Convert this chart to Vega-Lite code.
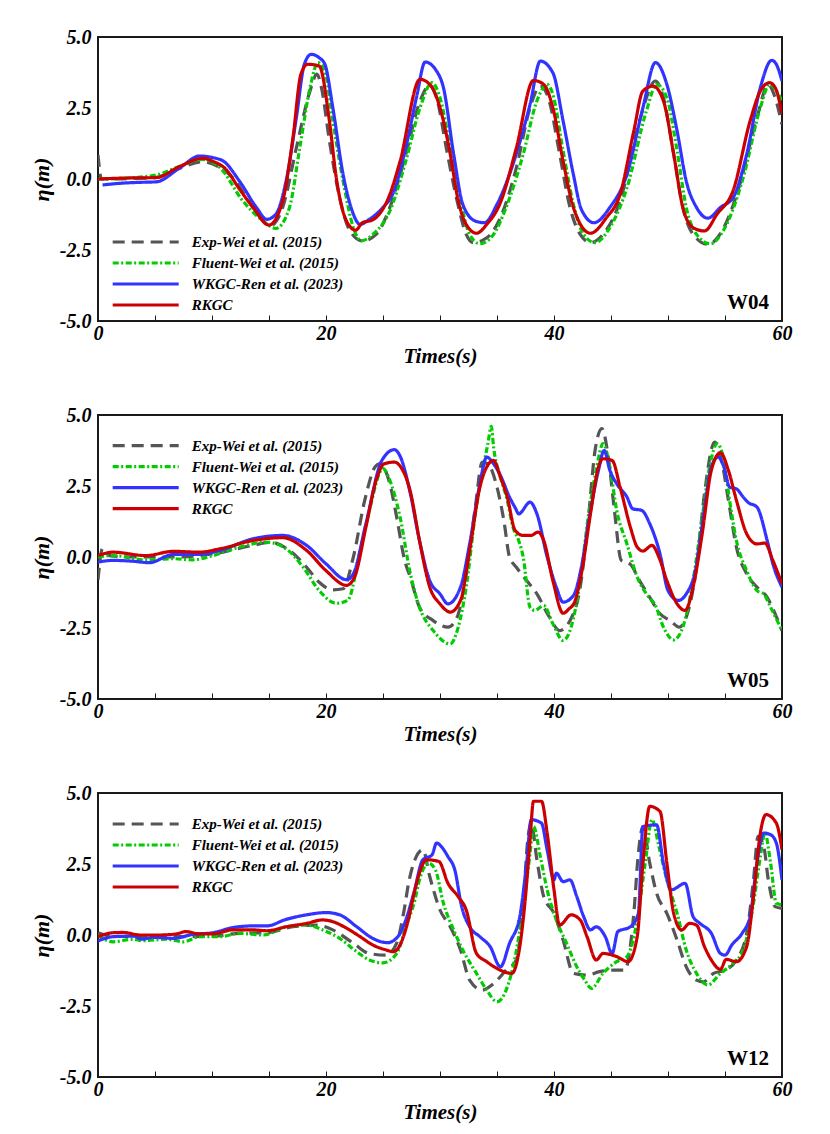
{
  "$schema": "https://vega.github.io/schema/vega-lite/v6.json",
  "background": "white",
  "padding": {"left": 29, "top": 26, "right": 10, "bottom": 10},
  "spacing": 37,
  "config": {
    "font": "Liberation Serif",
    "view": {"stroke": "#1a1a1a", "strokeWidth": 2},
    "axis": {
      "grid": false,
      "domain": false,
      "labelFont": "Liberation Serif",
      "labelFontWeight": "bold",
      "labelFontStyle": "italic",
      "labelFontSize": 20,
      "labelColor": "black",
      "titleFont": "Liberation Serif",
      "titleFontWeight": "bold",
      "titleFontStyle": "italic",
      "titleColor": "black"
    },
    "axisX": {
      "tickSize": -6,
      "tickColor": "#1a1a1a",
      "tickWidth": 1,
      "labelPadding": 8,
      "labelFlush": false,
      "labelOverlap": false,
      "titleFontSize": 21,
      "titlePadding": 2
    },
    "axisY": {
      "ticks": false,
      "labelPadding": 7,
      "titleFontSize": 22,
      "titlePadding": 6
    },
    "legend": {
      "orient": "none",
      "symbolType": "M-1,0H5",
      "symbolSize": 484,
      "symbolStrokeWidth": 3.2,
      "labelOffset": 55,
      "labelFont": "Liberation Serif",
      "labelFontSize": 15,
      "labelFontWeight": "bold",
      "labelFontStyle": "italic",
      "labelColor": "black",
      "labelLimit": 300,
      "rowPadding": 0,
      "padding": 0
    }
  },
  "resolve": {"scale": {"color": "independent", "strokeDash": "independent"}},
  "datasets": {
    "w04": [
      {"s":"exp","t":0,"y":0.85},{"s":"exp","t":0.3,"y":0},{"s":"exp","t":1.5,"y":0},{"s":"exp","t":3,"y":0.02},{"s":"exp","t":5,"y":0.05},{"s":"exp","t":7,"y":0.35},{"s":"exp","t":9.2,"y":0.61},{"s":"exp","t":10.5,"y":0.45},{"s":"exp","t":11.8,"y":0.05},{"s":"exp","t":13.6,"y":-1.0},{"s":"exp","t":15.1,"y":-1.65},{"s":"exp","t":16.2,"y":-1.0},{"s":"exp","t":17.4,"y":1.1},{"s":"exp","t":18.6,"y":3.1},{"s":"exp","t":19.2,"y":3.69},{"s":"exp","t":19.6,"y":3.22},{"s":"exp","t":20.3,"y":1.34},{"s":"exp","t":21.2,"y":-0.66},{"s":"exp","t":22.1,"y":-1.83},{"s":"exp","t":23.2,"y":-2.18},{"s":"exp","t":24.4,"y":-1.95},{"s":"exp","t":25.6,"y":-1.0},{"s":"exp","t":27,"y":0.87},{"s":"exp","t":28.25,"y":2.75},{"s":"exp","t":29.1,"y":3.3},{"s":"exp","t":29.7,"y":2.86},{"s":"exp","t":30.6,"y":0.99},{"s":"exp","t":31.5,"y":-0.77},{"s":"exp","t":32.3,"y":-1.95},{"s":"exp","t":32.9,"y":-2.24},{"s":"exp","t":34.1,"y":-2.07},{"s":"exp","t":35.3,"y":-1.36},{"s":"exp","t":36.7,"y":0.4},{"s":"exp","t":37.9,"y":2.51},{"s":"exp","t":38.8,"y":3.27},{"s":"exp","t":39.5,"y":2.86},{"s":"exp","t":40.5,"y":0.87},{"s":"exp","t":41.4,"y":-1.0},{"s":"exp","t":42.3,"y":-1.95},{"s":"exp","t":43.2,"y":-2.24},{"s":"exp","t":44.3,"y":-1.95},{"s":"exp","t":45.8,"y":-0.77},{"s":"exp","t":47.5,"y":2.04},{"s":"exp","t":48.9,"y":3.45},{"s":"exp","t":49.6,"y":2.86},{"s":"exp","t":50.5,"y":0.87},{"s":"exp","t":51.3,"y":-1.0},{"s":"exp","t":52.2,"y":-1.95},{"s":"exp","t":53.5,"y":-2.3},{"s":"exp","t":54.9,"y":-1.71},{"s":"exp","t":56.3,"y":-0.19},{"s":"exp","t":57.8,"y":2.16},{"s":"exp","t":58.8,"y":3.33},{"s":"exp","t":59.4,"y":2.86},{"s":"exp","t":60,"y":1.92},
      {"s":"flu","t":0,"y":0},{"s":"flu","t":2,"y":0.02},{"s":"flu","t":5.1,"y":0.14},{"s":"flu","t":7.2,"y":0.45},{"s":"flu","t":9.2,"y":0.69},{"s":"flu","t":10.7,"y":0.4},{"s":"flu","t":12.7,"y":-0.77},{"s":"flu","t":14.5,"y":-1.48},{"s":"flu","t":15.6,"y":-1.74},{"s":"flu","t":16.8,"y":-1.0},{"s":"flu","t":17.7,"y":1.1},{"s":"flu","t":18.6,"y":3.22},{"s":"flu","t":19.3,"y":4.1},{"s":"flu","t":19.9,"y":3.8},{"s":"flu","t":20.6,"y":2.04},{"s":"flu","t":21.5,"y":-0.07},{"s":"flu","t":22.4,"y":-1.71},{"s":"flu","t":23.1,"y":-2.18},{"s":"flu","t":24.1,"y":-1.95},{"s":"flu","t":25.6,"y":-1.13},{"s":"flu","t":27,"y":0.63},{"s":"flu","t":28.25,"y":2.51},{"s":"flu","t":29.3,"y":3.39},{"s":"flu","t":30.0,"y":2.86},{"s":"flu","t":30.9,"y":1.1},{"s":"flu","t":31.8,"y":-0.77},{"s":"flu","t":32.6,"y":-1.95},{"s":"flu","t":33.5,"y":-2.28},{"s":"flu","t":34.7,"y":-1.95},{"s":"flu","t":35.8,"y":-1.0},{"s":"flu","t":37.3,"y":0.87},{"s":"flu","t":38.5,"y":2.75},{"s":"flu","t":39.4,"y":3.33},{"s":"flu","t":39.9,"y":2.98},{"s":"flu","t":40.8,"y":0.99},{"s":"flu","t":41.7,"y":-0.89},{"s":"flu","t":42.6,"y":-1.95},{"s":"flu","t":43.6,"y":-2.24},{"s":"flu","t":44.9,"y":-1.71},{"s":"flu","t":46.4,"y":-0.31},{"s":"flu","t":48.1,"y":2.39},{"s":"flu","t":49.0,"y":3.33},{"s":"flu","t":49.9,"y":2.86},{"s":"flu","t":50.8,"y":0.99},{"s":"flu","t":51.6,"y":-1.0},{"s":"flu","t":52.5,"y":-1.95},{"s":"flu","t":53.7,"y":-2.28},{"s":"flu","t":55,"y":-1.71},{"s":"flu","t":56.6,"y":0.05},{"s":"flu","t":58.1,"y":2.51},{"s":"flu","t":58.9,"y":3.33},{"s":"flu","t":59.5,"y":3.1},{"s":"flu","t":60,"y":2.75},
      {"s":"ren","t":0.4,"y":-0.21},{"s":"ren","t":2,"y":-0.15},{"s":"ren","t":3.5,"y":-0.12},{"s":"ren","t":5.1,"y":-0.1},{"s":"ren","t":7.2,"y":0.4},{"s":"ren","t":8.9,"y":0.81},{"s":"ren","t":10.1,"y":0.75},{"s":"ren","t":11,"y":0.63},{"s":"ren","t":12.4,"y":-0.07},{"s":"ren","t":13.9,"y":-1.0},{"s":"ren","t":14.8,"y":-1.42},{"s":"ren","t":15.6,"y":-1.24},{"s":"ren","t":16.5,"y":-0.07},{"s":"ren","t":17.4,"y":2.16},{"s":"ren","t":18.1,"y":4.04},{"s":"ren","t":18.7,"y":4.39},{"s":"ren","t":19.4,"y":4.27},{"s":"ren","t":19.9,"y":4.04},{"s":"ren","t":20.6,"y":2.51},{"s":"ren","t":21.5,"y":0.16},{"s":"ren","t":22.2,"y":-1.0},{"s":"ren","t":23,"y":-1.6},{"s":"ren","t":23.8,"y":-1.42},{"s":"ren","t":25,"y":-1.0},{"s":"ren","t":25.9,"y":-0.48},{"s":"ren","t":27,"y":1.1},{"s":"ren","t":27.95,"y":2.9},{"s":"ren","t":28.7,"y":4.12},{"s":"ren","t":29.7,"y":3.8},{"s":"ren","t":30.3,"y":3.22},{"s":"ren","t":31.2,"y":0.87},{"s":"ren","t":32.0,"y":-0.89},{"s":"ren","t":33.1,"y":-1.48},{"s":"ren","t":33.9,"y":-1.54},{"s":"ren","t":35.0,"y":-0.89},{"s":"ren","t":36.4,"y":0.52},{"s":"ren","t":37.9,"y":2.63},{"s":"ren","t":38.8,"y":4.15},{"s":"ren","t":39.9,"y":3.74},{"s":"ren","t":40.8,"y":2.04},{"s":"ren","t":41.7,"y":0.16},{"s":"ren","t":42.4,"y":-1.07},{"s":"ren","t":43.5,"y":-1.54},{"s":"ren","t":44.9,"y":-1.0},{"s":"ren","t":46.4,"y":0.16},{"s":"ren","t":47.8,"y":2.51},{"s":"ren","t":48.9,"y":4.1},{"s":"ren","t":49.9,"y":3.33},{"s":"ren","t":50.8,"y":1.69},{"s":"ren","t":51.6,"y":-0.07},{"s":"ren","t":52.5,"y":-1.0},{"s":"ren","t":53.5,"y":-1.38},{"s":"ren","t":54.6,"y":-1.0},{"s":"ren","t":55.7,"y":-0.66},{"s":"ren","t":56.9,"y":0.87},{"s":"ren","t":58.1,"y":3.22},{"s":"ren","t":59.1,"y":4.18},{"s":"ren","t":59.5,"y":4.04},{"s":"ren","t":60,"y":3.45},
      {"s":"rkgc","t":0,"y":0},{"s":"rkgc","t":2,"y":0.03},{"s":"rkgc","t":5.1,"y":0.05},{"s":"rkgc","t":7.2,"y":0.45},{"s":"rkgc","t":9.2,"y":0.73},{"s":"rkgc","t":10.1,"y":0.62},{"s":"rkgc","t":11.2,"y":0.35},{"s":"rkgc","t":12.4,"y":-0.35},{"s":"rkgc","t":13.6,"y":-1.0},{"s":"rkgc","t":15,"y":-1.62},{"s":"rkgc","t":16.2,"y":-0.77},{"s":"rkgc","t":17.1,"y":1.45},{"s":"rkgc","t":17.8,"y":3.69},{"s":"rkgc","t":18.4,"y":4.04},{"s":"rkgc","t":19.4,"y":3.98},{"s":"rkgc","t":20.3,"y":2.04},{"s":"rkgc","t":20.9,"y":0.05},{"s":"rkgc","t":21.8,"y":-1.48},{"s":"rkgc","t":22.6,"y":-1.8},{"s":"rkgc","t":23.2,"y":-1.54},{"s":"rkgc","t":24.1,"y":-1.44},{"s":"rkgc","t":25.6,"y":-0.54},{"s":"rkgc","t":26.5,"y":0.63},{"s":"rkgc","t":28.25,"y":3.51},{"s":"rkgc","t":29.1,"y":3.33},{"s":"rkgc","t":30.0,"y":2.51},{"s":"rkgc","t":30.9,"y":0.87},{"s":"rkgc","t":31.6,"y":-0.77},{"s":"rkgc","t":32.3,"y":-1.6},{"s":"rkgc","t":33.2,"y":-1.91},{"s":"rkgc","t":34.1,"y":-1.6},{"s":"rkgc","t":35.3,"y":-0.83},{"s":"rkgc","t":36.7,"y":1.1},{"s":"rkgc","t":38.2,"y":3.47},{"s":"rkgc","t":39.1,"y":3.33},{"s":"rkgc","t":39.9,"y":2.51},{"s":"rkgc","t":40.8,"y":0.63},{"s":"rkgc","t":41.7,"y":-1.0},{"s":"rkgc","t":43.2,"y":-1.91},{"s":"rkgc","t":44.6,"y":-1.36},{"s":"rkgc","t":45.8,"y":-0.54},{"s":"rkgc","t":47.0,"y":1.69},{"s":"rkgc","t":47.8,"y":3.1},{"s":"rkgc","t":48.7,"y":3.27},{"s":"rkgc","t":49.6,"y":2.75},{"s":"rkgc","t":50.5,"y":0.87},{"s":"rkgc","t":51.3,"y":-1.0},{"s":"rkgc","t":52.2,"y":-1.71},{"s":"rkgc","t":53.2,"y":-1.83},{"s":"rkgc","t":54.3,"y":-1.24},{"s":"rkgc","t":55.7,"y":-0.42},{"s":"rkgc","t":57.2,"y":2.04},{"s":"rkgc","t":58.1,"y":3.1},{"s":"rkgc","t":58.9,"y":3.39},{"s":"rkgc","t":59.4,"y":3.22},{"s":"rkgc","t":60,"y":2.3}
    ],
    "w05": [
      {"s":"exp","t":0,"y":-0.8},{"s":"exp","t":0.4,"y":0.3},{"s":"exp","t":1,"y":0.05},{"s":"exp","t":3,"y":0},{"s":"exp","t":6.6,"y":0},{"s":"exp","t":10.1,"y":0.11},{"s":"exp","t":13.6,"y":0.41},{"s":"exp","t":15.1,"y":0.52},{"s":"exp","t":16.8,"y":0.23},{"s":"exp","t":18.3,"y":-0.36},{"s":"exp","t":19.4,"y":-0.89},{"s":"exp","t":20.6,"y":-1.16},{"s":"exp","t":21.5,"y":-1.12},{"s":"exp","t":22.4,"y":0},{"s":"exp","t":23.4,"y":2.0},{"s":"exp","t":24.3,"y":3.17},{"s":"exp","t":24.7,"y":3.28},{"s":"exp","t":25.6,"y":2.58},{"s":"exp","t":26.2,"y":1.4},{"s":"exp","t":26.9,"y":-0.12},{"s":"exp","t":27.4,"y":-0.71},{"s":"exp","t":28.2,"y":-1.77},{"s":"exp","t":29.4,"y":-2.24},{"s":"exp","t":30.7,"y":-2.47},{"s":"exp","t":31.5,"y":-2.12},{"s":"exp","t":32.3,"y":-0.59},{"s":"exp","t":33.1,"y":1.76},{"s":"exp","t":33.7,"y":3.34},{"s":"exp","t":34.2,"y":3.28},{"s":"exp","t":35,"y":2.46},{"s":"exp","t":35.6,"y":1.29},{"s":"exp","t":36.1,"y":0},{"s":"exp","t":36.7,"y":-0.36},{"s":"exp","t":37.6,"y":-0.83},{"s":"exp","t":38.5,"y":-1.3},{"s":"exp","t":39.6,"y":-2.12},{"s":"exp","t":40.5,"y":-2.59},{"s":"exp","t":41.4,"y":-2.24},{"s":"exp","t":42.3,"y":-1.06},{"s":"exp","t":43,"y":1.29},{"s":"exp","t":43.6,"y":3.75},{"s":"exp","t":44.2,"y":4.52},{"s":"exp","t":44.8,"y":3.4},{"s":"exp","t":45.3,"y":1.64},{"s":"exp","t":45.9,"y":-0.12},{"s":"exp","t":46.7,"y":-0.26},{"s":"exp","t":47.5,"y":-0.83},{"s":"exp","t":48.4,"y":-1.42},{"s":"exp","t":49.3,"y":-2.0},{"s":"exp","t":50.2,"y":-2.24},{"s":"exp","t":51.0,"y":-2.47},{"s":"exp","t":51.6,"y":-2.12},{"s":"exp","t":52.5,"y":-0.36},{"s":"exp","t":53.2,"y":2.23},{"s":"exp","t":54.1,"y":4.05},{"s":"exp","t":54.7,"y":3.4},{"s":"exp","t":55.3,"y":2.0},{"s":"exp","t":56,"y":0.35},{"s":"exp","t":56.9,"y":-0.59},{"s":"exp","t":57.8,"y":-1.06},{"s":"exp","t":58.7,"y":-1.42},{"s":"exp","t":59.4,"y":-2.0},{"s":"exp","t":60,"y":-2.59},
      {"s":"flu","t":0,"y":0},{"s":"flu","t":1.3,"y":0.05},{"s":"flu","t":4.2,"y":-0.1},{"s":"flu","t":6.6,"y":-0.06},{"s":"flu","t":8.3,"y":-0.1},{"s":"flu","t":10.1,"y":0.05},{"s":"flu","t":12.4,"y":0.35},{"s":"flu","t":14.8,"y":0.52},{"s":"flu","t":16.5,"y":0.29},{"s":"flu","t":18,"y":-0.36},{"s":"flu","t":19.4,"y":-1.18},{"s":"flu","t":20.9,"y":-1.63},{"s":"flu","t":21.9,"y":-1.53},{"s":"flu","t":23.0,"y":0.23},{"s":"flu","t":23.8,"y":1.64},{"s":"flu","t":25,"y":3.11},{"s":"flu","t":25.6,"y":2.7},{"s":"flu","t":26.5,"y":1.4},{"s":"flu","t":27.4,"y":-0.59},{"s":"flu","t":28.2,"y":-1.77},{"s":"flu","t":29.4,"y":-2.59},{"s":"flu","t":30.9,"y":-3.06},{"s":"flu","t":31.6,"y":-2.47},{"s":"flu","t":32.3,"y":-1.06},{"s":"flu","t":33.1,"y":1.52},{"s":"flu","t":33.8,"y":3.17},{"s":"flu","t":34.2,"y":3.99},{"s":"flu","t":34.5,"y":4.6},{"s":"flu","t":34.7,"y":3.87},{"s":"flu","t":35.3,"y":2.81},{"s":"flu","t":35.9,"y":2.0},{"s":"flu","t":36.4,"y":1.05},{"s":"flu","t":36.9,"y":0.58},{"s":"flu","t":37.3,"y":0},{"s":"flu","t":37.9,"y":-1.77},{"s":"flu","t":38.3,"y":-1.88},{"s":"flu","t":39.1,"y":-1.71},{"s":"flu","t":39.9,"y":-2.35},{"s":"flu","t":40.8,"y":-2.94},{"s":"flu","t":41.5,"y":-2.47},{"s":"flu","t":42.3,"y":-0.83},{"s":"flu","t":43,"y":1.4},{"s":"flu","t":43.7,"y":3.05},{"s":"flu","t":44.3,"y":3.99},{"s":"flu","t":44.9,"y":3.17},{"s":"flu","t":45.5,"y":1.64},{"s":"flu","t":46.4,"y":0.46},{"s":"flu","t":47.3,"y":-0.71},{"s":"flu","t":48.1,"y":-1.3},{"s":"flu","t":48.9,"y":-1.71},{"s":"flu","t":49.6,"y":-2.47},{"s":"flu","t":50.5,"y":-2.92},{"s":"flu","t":51.3,"y":-2.47},{"s":"flu","t":52.2,"y":-0.83},{"s":"flu","t":53,"y":1.4},{"s":"flu","t":53.7,"y":3.28},{"s":"flu","t":54.3,"y":3.99},{"s":"flu","t":54.9,"y":3.4},{"s":"flu","t":55.4,"y":2.0},{"s":"flu","t":56,"y":0.58},{"s":"flu","t":56.9,"y":-0.48},{"s":"flu","t":57.8,"y":-1.18},{"s":"flu","t":58.4,"y":-1.3},{"s":"flu","t":59,"y":-1.77},{"s":"flu","t":60,"y":-2.59},
      {"s":"ren","t":0,"y":-0.18},{"s":"ren","t":1.3,"y":-0.12},{"s":"ren","t":3.1,"y":-0.15},{"s":"ren","t":4.5,"y":-0.2},{"s":"ren","t":6.6,"y":0.09},{"s":"ren","t":8.9,"y":0.09},{"s":"ren","t":10.7,"y":0.23},{"s":"ren","t":13.6,"y":0.64},{"s":"ren","t":16.2,"y":0.76},{"s":"ren","t":18.3,"y":0.41},{"s":"ren","t":20.0,"y":-0.24},{"s":"ren","t":21.8,"y":-0.8},{"s":"ren","t":22.4,"y":-0.59},{"s":"ren","t":23.5,"y":1.17},{"s":"ren","t":24.9,"y":3.4},{"s":"ren","t":26,"y":3.78},{"s":"ren","t":26.5,"y":3.55},{"s":"ren","t":27.4,"y":2.23},{"s":"ren","t":28.2,"y":0.58},{"s":"ren","t":29.1,"y":-0.83},{"s":"ren","t":30,"y":-1.3},{"s":"ren","t":30.7,"y":-1.65},{"s":"ren","t":31.8,"y":-1.06},{"s":"ren","t":32.6,"y":0.46},{"s":"ren","t":33.5,"y":2.58},{"s":"ren","t":34.1,"y":3.52},{"s":"ren","t":34.7,"y":3.28},{"s":"ren","t":35.3,"y":2.87},{"s":"ren","t":36.1,"y":2.11},{"s":"ren","t":36.6,"y":1.73},{"s":"ren","t":36.9,"y":1.52},{"s":"ren","t":37.9,"y":1.93},{"s":"ren","t":38.5,"y":1.52},{"s":"ren","t":39.4,"y":0},{"s":"ren","t":40.2,"y":-1.06},{"s":"ren","t":40.8,"y":-1.59},{"s":"ren","t":41.7,"y":-1.36},{"s":"ren","t":42.4,"y":-0.36},{"s":"ren","t":43.2,"y":1.64},{"s":"ren","t":43.9,"y":3.05},{"s":"ren","t":44.4,"y":3.75},{"s":"ren","t":44.9,"y":3.05},{"s":"ren","t":45.5,"y":2.58},{"s":"ren","t":46.4,"y":2.11},{"s":"ren","t":46.9,"y":1.7},{"s":"ren","t":47.7,"y":1.64},{"s":"ren","t":48.4,"y":1.17},{"s":"ren","t":49.3,"y":0.11},{"s":"ren","t":50,"y":-1.18},{"s":"ren","t":50.9,"y":-1.53},{"s":"ren","t":51.6,"y":-1.3},{"s":"ren","t":52.4,"y":-0.48},{"s":"ren","t":53.1,"y":1.4},{"s":"ren","t":53.8,"y":3.17},{"s":"ren","t":54.4,"y":3.52},{"s":"ren","t":54.9,"y":3.17},{"s":"ren","t":55.4,"y":2.46},{"s":"ren","t":56,"y":2.4},{"s":"ren","t":56.6,"y":2.11},{"s":"ren","t":57.0,"y":1.93},{"s":"ren","t":57.8,"y":1.76},{"s":"ren","t":58.7,"y":0.58},{"s":"ren","t":59.2,"y":-0.24},{"s":"ren","t":60,"y":-1.06},
      {"s":"rkgc","t":0,"y":0.05},{"s":"rkgc","t":1.3,"y":0.17},{"s":"rkgc","t":4.2,"y":0.05},{"s":"rkgc","t":6.6,"y":0.2},{"s":"rkgc","t":8.9,"y":0.17},{"s":"rkgc","t":10.7,"y":0.29},{"s":"rkgc","t":13.6,"y":0.58},{"s":"rkgc","t":16.2,"y":0.68},{"s":"rkgc","t":18.3,"y":0.23},{"s":"rkgc","t":20.0,"y":-0.48},{"s":"rkgc","t":21.8,"y":-1.0},{"s":"rkgc","t":22.5,"y":-0.71},{"s":"rkgc","t":23.5,"y":1.05},{"s":"rkgc","t":24.4,"y":2.7},{"s":"rkgc","t":25.1,"y":3.28},{"s":"rkgc","t":26,"y":3.34},{"s":"rkgc","t":26.5,"y":3.2},{"s":"rkgc","t":27.4,"y":2.3},{"s":"rkgc","t":28.2,"y":0.58},{"s":"rkgc","t":29.1,"y":-1.06},{"s":"rkgc","t":30,"y":-1.65},{"s":"rkgc","t":30.9,"y":-1.94},{"s":"rkgc","t":31.8,"y":-1.53},{"s":"rkgc","t":32.6,"y":0.23},{"s":"rkgc","t":33.5,"y":2.46},{"s":"rkgc","t":34.1,"y":3.17},{"s":"rkgc","t":34.7,"y":3.4},{"s":"rkgc","t":35.3,"y":2.81},{"s":"rkgc","t":35.9,"y":2.11},{"s":"rkgc","t":36.6,"y":0.93},{"s":"rkgc","t":37.3,"y":0.76},{"s":"rkgc","t":38.0,"y":0.76},{"s":"rkgc","t":38.6,"y":0.88},{"s":"rkgc","t":39.1,"y":0.58},{"s":"rkgc","t":39.9,"y":-0.83},{"s":"rkgc","t":40.8,"y":-1.98},{"s":"rkgc","t":41.3,"y":-1.83},{"s":"rkgc","t":41.8,"y":-1.59},{"s":"rkgc","t":42.4,"y":-0.59},{"s":"rkgc","t":43.2,"y":1.52},{"s":"rkgc","t":43.9,"y":3.17},{"s":"rkgc","t":44.3,"y":3.46},{"s":"rkgc","t":45.1,"y":3.4},{"s":"rkgc","t":45.8,"y":2.46},{"s":"rkgc","t":46.7,"y":1.05},{"s":"rkgc","t":47.3,"y":0.35},{"s":"rkgc","t":47.8,"y":0.21},{"s":"rkgc","t":48.6,"y":0.41},{"s":"rkgc","t":49.2,"y":0},{"s":"rkgc","t":49.9,"y":-0.83},{"s":"rkgc","t":50.8,"y":-1.65},{"s":"rkgc","t":51.5,"y":-1.88},{"s":"rkgc","t":52.2,"y":-1.06},{"s":"rkgc","t":53,"y":0.82},{"s":"rkgc","t":53.8,"y":3.05},{"s":"rkgc","t":54.6,"y":3.67},{"s":"rkgc","t":55.3,"y":3.05},{"s":"rkgc","t":56,"y":2.0},{"s":"rkgc","t":56.9,"y":0.82},{"s":"rkgc","t":57.8,"y":0.46},{"s":"rkgc","t":58.5,"y":0.49},{"s":"rkgc","t":59.2,"y":-0.12},{"s":"rkgc","t":60,"y":-0.95}
    ],
    "w12": [
      {"s":"exp","t":0,"y":0.08},{"s":"exp","t":1.3,"y":-0.04},{"s":"exp","t":4.2,"y":-0.06},{"s":"exp","t":7.7,"y":-0.06},{"s":"exp","t":10.1,"y":-0.04},{"s":"exp","t":12.4,"y":0.06},{"s":"exp","t":14.8,"y":0.08},{"s":"exp","t":17.1,"y":0.29},{"s":"exp","t":19.2,"y":0.35},{"s":"exp","t":20.6,"y":0.18},{"s":"exp","t":22.4,"y":-0.29},{"s":"exp","t":23.8,"y":-0.65},{"s":"exp","t":25.3,"y":-0.71},{"s":"exp","t":26.2,"y":-0.29},{"s":"exp","t":26.8,"y":0.76},{"s":"exp","t":27.3,"y":1.94},{"s":"exp","t":27.8,"y":2.65},{"s":"exp","t":28.5,"y":3.0},{"s":"exp","t":29.1,"y":2.06},{"s":"exp","t":30,"y":0.88},{"s":"exp","t":30.9,"y":0.29},{"s":"exp","t":31.8,"y":-0.53},{"s":"exp","t":32.6,"y":-1.59},{"s":"exp","t":33.7,"y":-1.94},{"s":"exp","t":34.7,"y":-1.71},{"s":"exp","t":35.8,"y":-1.24},{"s":"exp","t":36.7,"y":-0.88},{"s":"exp","t":37.3,"y":1.12},{"s":"exp","t":37.7,"y":3.35},{"s":"exp","t":38.0,"y":3.94},{"s":"exp","t":38.5,"y":2.65},{"s":"exp","t":39.1,"y":1.35},{"s":"exp","t":40,"y":0.76},{"s":"exp","t":40.8,"y":-0.18},{"s":"exp","t":41.7,"y":-1.35},{"s":"exp","t":42.9,"y":-1.41},{"s":"exp","t":44,"y":-1.29},{"s":"exp","t":45.2,"y":-1.24},{"s":"exp","t":46.2,"y":-1.24},{"s":"exp","t":47,"y":0.76},{"s":"exp","t":47.4,"y":2.88},{"s":"exp","t":47.8,"y":3.82},{"s":"exp","t":48.4,"y":2.53},{"s":"exp","t":49,"y":1.47},{"s":"exp","t":49.9,"y":0.76},{"s":"exp","t":50.8,"y":-0.18},{"s":"exp","t":51.6,"y":-1.12},{"s":"exp","t":52.5,"y":-1.59},{"s":"exp","t":53.1,"y":-1.65},{"s":"exp","t":54,"y":-1.35},{"s":"exp","t":55,"y":-1.24},{"s":"exp","t":56,"y":-0.88},{"s":"exp","t":56.9,"y":0.06},{"s":"exp","t":57.5,"y":1.94},{"s":"exp","t":57.9,"y":3.47},{"s":"exp","t":58.4,"y":3.12},{"s":"exp","t":58.8,"y":1.94},{"s":"exp","t":59.4,"y":1.0},{"s":"exp","t":60,"y":0.94},
      {"s":"flu","t":0,"y":0},{"s":"flu","t":1.3,"y":-0.24},{"s":"flu","t":3.1,"y":-0.15},{"s":"flu","t":3.9,"y":-0.2},{"s":"flu","t":6,"y":-0.15},{"s":"flu","t":7.5,"y":-0.24},{"s":"flu","t":8.9,"y":-0.06},{"s":"flu","t":10.7,"y":-0.06},{"s":"flu","t":12.4,"y":0.06},{"s":"flu","t":14.5,"y":0},{"s":"flu","t":16.5,"y":0.29},{"s":"flu","t":18.3,"y":0.35},{"s":"flu","t":19.7,"y":0.18},{"s":"flu","t":21.2,"y":-0.12},{"s":"flu","t":22.7,"y":-0.59},{"s":"flu","t":23.8,"y":-0.88},{"s":"flu","t":25,"y":-0.98},{"s":"flu","t":26.2,"y":-0.65},{"s":"flu","t":27,"y":0.29},{"s":"flu","t":27.8,"y":1.24},{"s":"flu","t":28.2,"y":1.94},{"s":"flu","t":29,"y":2.53},{"s":"flu","t":29.6,"y":2.29},{"s":"flu","t":30.3,"y":1.12},{"s":"flu","t":31.2,"y":0.18},{"s":"flu","t":32.0,"y":-0.53},{"s":"flu","t":33.2,"y":-1.35},{"s":"flu","t":34.1,"y":-1.94},{"s":"flu","t":35,"y":-2.35},{"s":"flu","t":35.8,"y":-1.94},{"s":"flu","t":36.6,"y":-0.76},{"s":"flu","t":37.3,"y":1.0},{"s":"flu","t":37.9,"y":2.88},{"s":"flu","t":38.2,"y":3.82},{"s":"flu","t":38.8,"y":2.76},{"s":"flu","t":39.4,"y":1.59},{"s":"flu","t":40.2,"y":0.53},{"s":"flu","t":41.1,"y":-0.29},{"s":"flu","t":42,"y":-1.12},{"s":"flu","t":42.7,"y":-1.59},{"s":"flu","t":43.3,"y":-1.88},{"s":"flu","t":44.3,"y":-1.35},{"s":"flu","t":45.5,"y":-0.94},{"s":"flu","t":46.4,"y":-0.76},{"s":"flu","t":47.3,"y":0.53},{"s":"flu","t":48,"y":2.53},{"s":"flu","t":48.6,"y":4.06},{"s":"flu","t":49.2,"y":3.12},{"s":"flu","t":49.9,"y":1.94},{"s":"flu","t":50.8,"y":0.76},{"s":"flu","t":51.6,"y":-0.53},{"s":"flu","t":52.5,"y":-1.35},{"s":"flu","t":53.5,"y":-1.76},{"s":"flu","t":54.6,"y":-1.35},{"s":"flu","t":55.7,"y":-1.0},{"s":"flu","t":56.6,"y":-0.53},{"s":"flu","t":57.5,"y":1.12},{"s":"flu","t":58.1,"y":2.76},{"s":"flu","t":58.5,"y":3.59},{"s":"flu","t":59,"y":2.53},{"s":"flu","t":59.5,"y":1.12},{"s":"flu","t":60,"y":1.06},
      {"s":"ren","t":0,"y":-0.21},{"s":"ren","t":1.3,"y":-0.06},{"s":"ren","t":3.1,"y":-0.04},{"s":"ren","t":3.9,"y":-0.15},{"s":"ren","t":4.8,"y":-0.08},{"s":"ren","t":6.6,"y":-0.12},{"s":"ren","t":8.3,"y":0.02},{"s":"ren","t":10.1,"y":0.08},{"s":"ren","t":11.8,"y":0.26},{"s":"ren","t":13.6,"y":0.32},{"s":"ren","t":14.8,"y":0.32},{"s":"ren","t":16.5,"y":0.55},{"s":"ren","t":18.3,"y":0.71},{"s":"ren","t":20,"y":0.79},{"s":"ren","t":21.2,"y":0.71},{"s":"ren","t":22.7,"y":0.29},{"s":"ren","t":24.1,"y":-0.12},{"s":"ren","t":25.4,"y":-0.27},{"s":"ren","t":26.3,"y":-0.06},{"s":"ren","t":27,"y":0.53},{"s":"ren","t":27.7,"y":1.47},{"s":"ren","t":28.5,"y":2.65},{"s":"ren","t":29.3,"y":2.82},{"s":"ren","t":29.7,"y":3.24},{"s":"ren","t":30.1,"y":3.12},{"s":"ren","t":30.7,"y":2.76},{"s":"ren","t":31.3,"y":2.29},{"s":"ren","t":31.9,"y":1.0},{"s":"ren","t":32.6,"y":0.29},{"s":"ren","t":33.5,"y":-0.06},{"s":"ren","t":34.4,"y":-0.41},{"s":"ren","t":35.3,"y":-1.12},{"s":"ren","t":36.1,"y":-0.29},{"s":"ren","t":37,"y":0.65},{"s":"ren","t":37.6,"y":2.53},{"s":"ren","t":38.0,"y":4.06},{"s":"ren","t":38.9,"y":3.94},{"s":"ren","t":39.4,"y":3.0},{"s":"ren","t":40,"y":1.94},{"s":"ren","t":40.2,"y":2.18},{"s":"ren","t":40.8,"y":1.88},{"s":"ren","t":41.4,"y":1.94},{"s":"ren","t":42,"y":1.35},{"s":"ren","t":42.6,"y":0.65},{"s":"ren","t":43.2,"y":0.18},{"s":"ren","t":43.7,"y":0.29},{"s":"ren","t":44.5,"y":-0.06},{"s":"ren","t":45.1,"y":-0.65},{"s":"ren","t":45.6,"y":0.12},{"s":"ren","t":46.7,"y":0.29},{"s":"ren","t":47.4,"y":0.76},{"s":"ren","t":47.8,"y":3.82},{"s":"ren","t":49,"y":3.88},{"s":"ren","t":49.6,"y":2.53},{"s":"ren","t":50.3,"y":1.59},{"s":"ren","t":51.5,"y":1.82},{"s":"ren","t":52.2,"y":0.65},{"s":"ren","t":52.8,"y":0.41},{"s":"ren","t":53.8,"y":0.06},{"s":"ren","t":54.6,"y":-0.65},{"s":"ren","t":55,"y":-0.71},{"s":"ren","t":55.6,"y":-0.35},{"s":"ren","t":56.5,"y":0.06},{"s":"ren","t":57.2,"y":0.65},{"s":"ren","t":57.8,"y":2.53},{"s":"ren","t":58.4,"y":3.59},{"s":"ren","t":59,"y":3.53},{"s":"ren","t":59.5,"y":3.24},{"s":"ren","t":60,"y":1.94},
      {"s":"rkgc","t":0,"y":-0.06},{"s":"rkgc","t":1.3,"y":0.08},{"s":"rkgc","t":2.2,"y":0.09},{"s":"rkgc","t":3.7,"y":0},{"s":"rkgc","t":5.4,"y":0},{"s":"rkgc","t":6.9,"y":0.04},{"s":"rkgc","t":7.7,"y":0.12},{"s":"rkgc","t":8.9,"y":0.04},{"s":"rkgc","t":10.1,"y":0.04},{"s":"rkgc","t":11.8,"y":0.18},{"s":"rkgc","t":13.6,"y":0.18},{"s":"rkgc","t":14.8,"y":0.15},{"s":"rkgc","t":16.5,"y":0.29},{"s":"rkgc","t":18.3,"y":0.41},{"s":"rkgc","t":19.7,"y":0.53},{"s":"rkgc","t":20.6,"y":0.47},{"s":"rkgc","t":21.8,"y":0.24},{"s":"rkgc","t":23,"y":-0.06},{"s":"rkgc","t":24.1,"y":-0.35},{"s":"rkgc","t":25.3,"y":-0.53},{"s":"rkgc","t":25.9,"y":-0.59},{"s":"rkgc","t":26.5,"y":-0.35},{"s":"rkgc","t":27.2,"y":0.5},{"s":"rkgc","t":27.8,"y":1.59},{"s":"rkgc","t":28.2,"y":2.18},{"s":"rkgc","t":28.8,"y":2.65},{"s":"rkgc","t":29.9,"y":2.59},{"s":"rkgc","t":30.7,"y":1.82},{"s":"rkgc","t":31.6,"y":1.35},{"s":"rkgc","t":32.3,"y":0.88},{"s":"rkgc","t":33.2,"y":-0.65},{"s":"rkgc","t":34.1,"y":-0.94},{"s":"rkgc","t":35,"y":-1.18},{"s":"rkgc","t":36.3,"y":-1.35},{"s":"rkgc","t":36.9,"y":-0.65},{"s":"rkgc","t":37.5,"y":1.35},{"s":"rkgc","t":37.9,"y":3.35},{"s":"rkgc","t":38.2,"y":4.71},{"s":"rkgc","t":38.9,"y":4.71},{"s":"rkgc","t":39.4,"y":3.59},{"s":"rkgc","t":40,"y":1.59},{"s":"rkgc","t":40.5,"y":0.35},{"s":"rkgc","t":41.5,"y":0.71},{"s":"rkgc","t":42.3,"y":0.53},{"s":"rkgc","t":42.9,"y":-0.06},{"s":"rkgc","t":43.7,"y":-0.88},{"s":"rkgc","t":44.3,"y":-0.65},{"s":"rkgc","t":45.5,"y":-0.76},{"s":"rkgc","t":46.5,"y":-0.94},{"s":"rkgc","t":47.3,"y":-0.06},{"s":"rkgc","t":47.8,"y":2.53},{"s":"rkgc","t":48.4,"y":4.53},{"s":"rkgc","t":49.3,"y":4.35},{"s":"rkgc","t":49.9,"y":2.53},{"s":"rkgc","t":50.5,"y":0.76},{"s":"rkgc","t":51.2,"y":0.18},{"s":"rkgc","t":51.9,"y":0.41},{"s":"rkgc","t":52.5,"y":0.35},{"s":"rkgc","t":53.2,"y":-0.41},{"s":"rkgc","t":53.8,"y":-0.88},{"s":"rkgc","t":54.6,"y":-1.21},{"s":"rkgc","t":55.1,"y":-0.86},{"s":"rkgc","t":56,"y":-0.94},{"s":"rkgc","t":56.9,"y":-0.41},{"s":"rkgc","t":57.5,"y":1.35},{"s":"rkgc","t":58.1,"y":3.59},{"s":"rkgc","t":58.6,"y":4.24},{"s":"rkgc","t":59.5,"y":3.94},{"s":"rkgc","t":60,"y":3.0}
    ]
  },
  "vconcat": [
    {
      "width": 684,
      "height": 284,
      "layer": [
        {
          "data": {"name": "w04"},
          "mark": {"type": "line", "strokeWidth": 3.2, "interpolate": "monotone", "clip": true},
          "encoding": {
            "x": {"field": "t", "type": "quantitative", "scale": {"domain": [0, 60], "nice": false, "zero": false},
              "axis": {"title": "Times(s)", "values": [0,5,10,15,20,25,30,35,40,45,50,55,60], "labelExpr": "datum.value % 20 === 0 ? datum.label : ''"}},
            "y": {"field": "y", "type": "quantitative", "scale": {"domain": [-5, 5], "nice": false},
              "axis": {"title": "η(m)", "values": [-5,-2.5,0,2.5,5], "format": ".1f", "labelExpr": "replace(datum.label, '−', '-')"}},
            "color": {"field": "s", "type": "nominal",
              "scale": {"domain": ["exp","flu","ren","rkgc"], "range": ["#555555","#00cc00","#3333ff","#cc0000"]},
              "legend": {"title": null, "legendX": 12.7, "legendY": 192, "labelExpr": "datum.label === 'exp' ? 'Exp-Wei et al. (2015)' : datum.label === 'flu' ? 'Fluent-Wei et al. (2015)' : datum.label === 'ren' ? 'WKGC-Ren et al. (2023)' : 'RKGC'"}},
            "strokeDash": {"field": "s", "type": "nominal",
              "scale": {"domain": ["exp","flu","ren","rkgc"], "range": [[12,7],[6,2.5,2,2.5],[1,0],[1,0]]},
              "legend": {"title": null, "legendX": 12.7, "legendY": 192, "labelExpr": "datum.label === 'exp' ? 'Exp-Wei et al. (2015)' : datum.label === 'flu' ? 'Fluent-Wei et al. (2015)' : datum.label === 'ren' ? 'WKGC-Ren et al. (2023)' : 'RKGC'"}}
          }
        },
        {
          "data": {"values": [{"label": "W04"}]},
          "mark": {"type": "text", "align": "right", "baseline": "alphabetic", "dx": -13, "dy": -12, "font": "Liberation Serif", "fontSize": 21, "fontWeight": "bold", "color": "black"},
          "encoding": {"x": {"datum": 60}, "y": {"datum": -5}, "text": {"field": "label"}}
        }
      ]
    },
    {
      "width": 684,
      "height": 284,
      "layer": [
        {
          "data": {"name": "w05"},
          "mark": {"type": "line", "strokeWidth": 3.2, "interpolate": "monotone", "clip": true},
          "encoding": {
            "x": {"field": "t", "type": "quantitative", "scale": {"domain": [0, 60], "nice": false, "zero": false},
              "axis": {"title": "Times(s)", "values": [0,5,10,15,20,25,30,35,40,45,50,55,60], "labelExpr": "datum.value % 20 === 0 ? datum.label : ''"}},
            "y": {"field": "y", "type": "quantitative", "scale": {"domain": [-5, 5], "nice": false},
              "axis": {"title": "η(m)", "values": [-5,-2.5,0,2.5,5], "format": ".1f", "labelExpr": "replace(datum.label, '−', '-')"}},
            "color": {"field": "s", "type": "nominal",
              "scale": {"domain": ["exp","flu","ren","rkgc"], "range": ["#555555","#00cc00","#3333ff","#cc0000"]},
              "legend": {"title": null, "legendX": 12.7, "legendY": 17.6, "labelExpr": "datum.label === 'exp' ? 'Exp-Wei et al. (2015)' : datum.label === 'flu' ? 'Fluent-Wei et al. (2015)' : datum.label === 'ren' ? 'WKGC-Ren et al. (2023)' : 'RKGC'"}},
            "strokeDash": {"field": "s", "type": "nominal",
              "scale": {"domain": ["exp","flu","ren","rkgc"], "range": [[12,7],[6,2.5,2,2.5],[1,0],[1,0]]},
              "legend": {"title": null, "legendX": 12.7, "legendY": 17.6, "labelExpr": "datum.label === 'exp' ? 'Exp-Wei et al. (2015)' : datum.label === 'flu' ? 'Fluent-Wei et al. (2015)' : datum.label === 'ren' ? 'WKGC-Ren et al. (2023)' : 'RKGC'"}}
          }
        },
        {
          "data": {"values": [{"label": "W05"}]},
          "mark": {"type": "text", "align": "right", "baseline": "alphabetic", "dx": -13, "dy": -12, "font": "Liberation Serif", "fontSize": 21, "fontWeight": "bold", "color": "black"},
          "encoding": {"x": {"datum": 60}, "y": {"datum": -5}, "text": {"field": "label"}}
        }
      ]
    },
    {
      "width": 684,
      "height": 284,
      "layer": [
        {
          "data": {"name": "w12"},
          "mark": {"type": "line", "strokeWidth": 3.2, "interpolate": "monotone", "clip": true},
          "encoding": {
            "x": {"field": "t", "type": "quantitative", "scale": {"domain": [0, 60], "nice": false, "zero": false},
              "axis": {"title": "Times(s)", "values": [0,5,10,15,20,25,30,35,40,45,50,55,60], "labelExpr": "datum.value % 20 === 0 ? datum.label : ''"}},
            "y": {"field": "y", "type": "quantitative", "scale": {"domain": [-5, 5], "nice": false},
              "axis": {"title": "η(m)", "values": [-5,-2.5,0,2.5,5], "format": ".1f", "labelExpr": "replace(datum.label, '−', '-')"}},
            "color": {"field": "s", "type": "nominal",
              "scale": {"domain": ["exp","flu","ren","rkgc"], "range": ["#555555","#00cc00","#3333ff","#cc0000"]},
              "legend": {"title": null, "legendX": 12.7, "legendY": 18, "labelExpr": "datum.label === 'exp' ? 'Exp-Wei et al. (2015)' : datum.label === 'flu' ? 'Fluent-Wei et al. (2015)' : datum.label === 'ren' ? 'WKGC-Ren et al. (2023)' : 'RKGC'"}},
            "strokeDash": {"field": "s", "type": "nominal",
              "scale": {"domain": ["exp","flu","ren","rkgc"], "range": [[12,7],[6,2.5,2,2.5],[1,0],[1,0]]},
              "legend": {"title": null, "legendX": 12.7, "legendY": 18, "labelExpr": "datum.label === 'exp' ? 'Exp-Wei et al. (2015)' : datum.label === 'flu' ? 'Fluent-Wei et al. (2015)' : datum.label === 'ren' ? 'WKGC-Ren et al. (2023)' : 'RKGC'"}}
          }
        },
        {
          "data": {"values": [{"label": "W12"}]},
          "mark": {"type": "text", "align": "right", "baseline": "alphabetic", "dx": -13, "dy": -12, "font": "Liberation Serif", "fontSize": 21, "fontWeight": "bold", "color": "black"},
          "encoding": {"x": {"datum": 60}, "y": {"datum": -5}, "text": {"field": "label"}}
        }
      ]
    }
  ]
}
